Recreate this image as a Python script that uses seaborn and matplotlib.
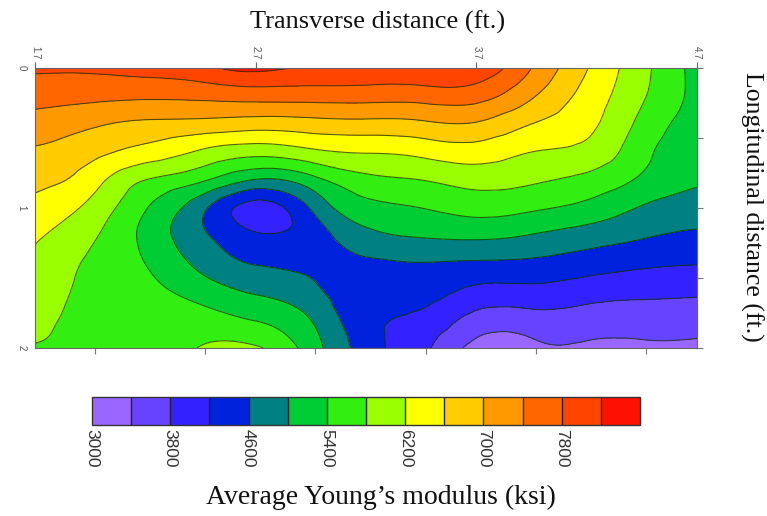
import numpy as np
import matplotlib
matplotlib.use("Agg")
import matplotlib.pyplot as plt
import matplotlib.tri as mtri
import seaborn as sns

# ---- data ----
x_ft = [1.70, 1.95, 2.20, 2.45, 2.70, 2.95, 3.20, 3.45, 3.70, 3.95, 4.20, 4.45, 4.70]
y_ft = [0.0, 0.2, 0.4, 0.6, 0.8, 1.0, 1.2, 1.4, 1.6, 1.8, 2.0]

row_00 = [7860, 7860, 7950, 8100, 8300, 8150, 8150, 8150, 8100, 7400, 6620, 5920, 5250]
row_02 = [7550, 7507, 7470, 7495, 7560, 7560, 7562, 7565, 7556, 7050, 6458, 5850, 5270]
row_04 = [7240, 7067, 6923, 6867, 6788, 6835, 6874, 6916, 6960, 6600, 6304, 5691, 5200]
row_06 = [6940, 6726, 6444, 6147, 5943, 6106, 6225, 6311, 6410, 6200, 6076, 5531, 5130]
row_08 = [6710, 6388, 5800, 5467, 4970, 5246, 5688, 5800, 5948, 5860, 5690, 5333, 5050]
row_10 = [6480, 6096, 5427, 4720, 4040, 4630, 5267, 5400, 5543, 5459, 5278, 4965, 4810]
row_12 = [6256, 5872, 5300, 4690, 4270, 4400, 4872, 5027, 5073, 4970, 4808, 4635, 4531]
row_14 = [6113, 5740, 5400, 4900, 4590, 4520, 4520, 4580, 4536, 4508, 4386, 4267, 4211]
row_16 = [5998, 5700, 5500, 5250, 4960, 4710, 4350, 4347, 4088, 4067, 3969, 3893, 3862]
row_18 = [5882, 5680, 5560, 5550, 5385, 5000, 4320, 4095, 3652, 3634, 3611, 3579, 3564]
row_20 = [5780, 5720, 5600, 5820, 5850, 5200, 4400, 3900, 3250, 3300, 3330, 3330, 3320]

levels = [3000, 3400, 3800, 4200, 4600, 5000, 5400, 5800, 6200,
          6600, 7000, 7400, 7800, 8200, 8600]
band_colors = ["#9966FF", "#6644FF", "#3322FF", "#0022DD", "#008080",
               "#00CC33", "#33EE11", "#99FF00", "#FFFF00", "#FFCC00",
               "#FF9900", "#FF6600", "#FF4400", "#FF1100"]
cbar_ticks = [3000, 3800, 4600, 5400, 6200, 7000, 7800]
top_ticks = [1.7, 2.7, 3.7, 4.7]
top_labels = ["1.7", "2.7", "3.7", "4.7"]
left_ticks = [0, 1, 2]
left_labels = ["0", "1", "2"]

# ---- figure ----
sns.set_style("white")
palette = sns.color_palette(band_colors)
plt.rcParams["font.family"] = ["Liberation Sans", "DejaVu Sans"]

W, H = 767, 516
fig = plt.figure(figsize=(W / 100, H / 100), dpi=100)

def box(x0, y0, x1, y1):
    return [x0 / W, 1 - y1 / H, (x1 - x0) / W, (y1 - y0) / H]

ax = fig.add_axes(box(35, 68, 697, 348))
X, Y = np.meshgrid(np.array(x_ft), np.array(y_ft))
Z = np.array([row_00, row_02, row_04, row_06, row_08, row_10, row_12,
              row_14, row_16, row_18, row_20], dtype=float)

# regular-grid triangulation, smoothed by matplotlib's own refiner
ny, nx = Z.shape
tris = []
for j in range(ny - 1):
    for i in range(nx - 1):
        a = j * nx + i
        b, c, d = a + 1, a + nx, a + nx + 1
        tris.append([a, b, d])
        tris.append([a, d, c])
tri = mtri.Triangulation(X.ravel(), Y.ravel(), np.array(tris))
interp = mtri.CubicTriInterpolator(tri, Z.ravel(), kind="min_E")
refiner = mtri.UniformTriRefiner(tri)
tri_f, z_f = refiner.refine_field(Z.ravel(), triinterpolator=interp, subdiv=4)
z_f = np.clip(z_f, levels[0] + 1, levels[-1] - 1)

cf = ax.tricontourf(tri_f, z_f, levels=levels, colors=palette)
ax.tricontour(tri_f, z_f, levels=levels, colors="#1a3300", linewidths=0.8,
              alpha=0.75)
ax.set_xlim(1.7, 4.7)
ax.set_ylim(2, 0)

for s in ax.spines.values():
    s.set_color("#666666")
    s.set_linewidth(0.8)

ax.xaxis.tick_top()
ax.set_xticks(top_ticks)
ax.set_xticklabels(top_labels, rotation=270, fontsize=7, color="#555555")
ax.set_yticks(left_ticks)
ax.set_yticklabels(left_labels, rotation=270, fontsize=7, color="#555555",
                   va="center")
ax.tick_params(axis="both", direction="out", length=4, width=0.8,
               color="#666666", pad=2)

secb = ax.secondary_xaxis("bottom")
secb.set_xticks([1.97, 2.47, 2.97, 3.47, 3.97, 4.47])
secb.set_xticklabels([])
secb.tick_params(direction="out", length=4, width=0.8, color="#777777")
secb.spines["bottom"].set_visible(False)

secr = ax.secondary_yaxis("right")
secr.set_yticks([0, 0.5, 1, 1.5, 2])
secr.set_yticklabels([])
secr.tick_params(direction="out", length=4, width=0.8, color="#777777")
secr.spines["right"].set_visible(False)

# ---- colorbar ----
cax = fig.add_axes(box(92, 397, 640, 425))
cb = fig.colorbar(cf, cax=cax, orientation="horizontal", ticks=cbar_ticks,
                  drawedges=True)
cb.outline.set_edgecolor("#333333")
cb.outline.set_linewidth(1.0)
cb.dividers.set_color("#222222")
cb.dividers.set_linewidth(1.0)
cax.tick_params(length=0, pad=3, labelsize=12.5, labelcolor="#333333")
for t in cax.get_xticklabels():
    t.set_rotation(270)
    t.set_va("top")
    t.set_ha("center")

# ---- titles ----
serif = ["Liberation Serif", "DejaVu Serif"]
fig.text(378 / W, 1 - 22 / H, "Transverse distance (ft.)", family=serif,
         fontsize=19, ha="center", va="center", color="#111111")
fig.text(752 / W, 1 - 207 / H, "Longitudinal distance (ft.)", family=serif,
         fontsize=18.5, rotation=270, ha="center", va="center", color="#111111")
fig.text(381 / W, 1 - 497 / H, "Average Young\u2019s modulus (ksi)", family=serif,
         fontsize=20, ha="center", va="center", color="#111111")

fig.savefig("out.png", dpi=100)
